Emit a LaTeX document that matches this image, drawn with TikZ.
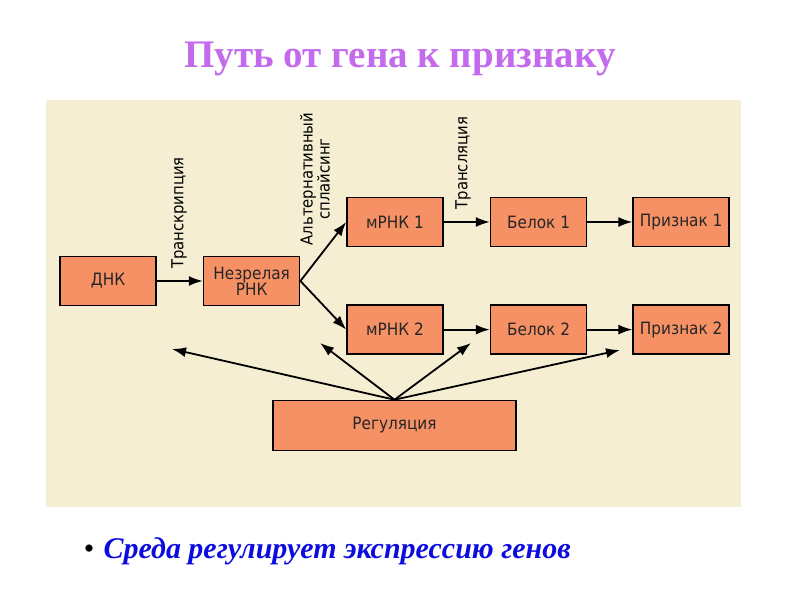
\documentclass[tikz,border=0pt]{standalone}
\usepackage{fontspec}
\setmainfont{Liberation Serif}
\newfontfamily\boxfont{DejaVu Sans Condensed}
\usetikzlibrary{positioning,arrows.meta}
\definecolor{panel}{RGB}{245,238,210}
\definecolor{boxfill}{RGB}{245,145,100}
\definecolor{titlecol}{RGB}{196,106,236}
\definecolor{notecol}{RGB}{12,12,222}
\begin{document}
\begin{tikzpicture}[x=1pt,y=-1pt,>={Latex[length=14pt,width=10pt]},
    box/.style={draw=black,line width=1.6pt,fill=boxfill,minimum width=96pt,minimum height=49pt,align=center,inner sep=2pt,text=black!85,font=\boxfont\fontsize{17}{16}\selectfont},
    lbl/.style={rotate=90,align=center,inner sep=0pt,font=\boxfont\fontsize{16.5}{17}\selectfont},
    arr/.style={line width=1.8pt,->}]
                \useasboundingbox[fill=white] (0,0) rectangle (800,600);
                \fill[panel] (46,100) rectangle (741,507);

                \node[anchor=base,text=titlecol,font=\bfseries\fontsize{39}{42}\selectfont] (title) at (400,67) {Путь от гена к признаку};

                \node[box] (dnk) at (108,281) {ДНК};
                \node[box,right=46pt of dnk] (pre) {Незрелая\\РНК};
                \node[box] (m1) at (395,222) {мРНК 1};
                \node[box,below=57pt of m1] (m2) {мРНК 2};
                \node[box,right=46pt of m1] (b1) {Белок 1};
                \node[box,right=46pt of m2] (b2) {Белок 2};
                \node[box,right=45pt of b1] (p1) {Признак 1};
                \node[box,right=45pt of b2] (p2) {Признак 2};
                \node[box,minimum width=243pt,minimum height=50pt] (reg) at (394.5,425.5) {Регуляция};

                \draw[arr] (dnk) -- (pre);
                \draw[arr] (pre.east) -- (m1.west);
                \draw[arr] (pre.east) -- (m2.west);
                \draw[arr] (m1) -- (b1);
                \draw[arr] (m2) -- (b2);
                \draw[arr] (b1) -- (p1);
                \draw[arr] (b2) -- (p2);

                \node[lbl] (trc) at (179,213) {Транскрипция};
                \node[lbl] (spl) at (315,179) {Альтернативный\\сплайсинг};
                \node[lbl] (trl) at (463,163) {Трансляция};

                \coordinate (r1) at (172,349);
                \coordinate (r2) at (320,343);
                \coordinate (r3) at (471,343);
                \coordinate (r4) at (620,350);
                \foreach \t in {r1,r2,r3,r4}
                    \draw[arr] (reg.north) -- (\t);

                \node[anchor=base,font=\fontsize{30}{32}\selectfont] (dot) at (89,558) {•};
                \node[anchor=base west,text=notecol,font=\bfseries\itshape\fontsize{30}{32}\selectfont] (env) at (100,558) {Среда регулирует экспрессию генов};

            \end{tikzpicture}
\end{document}
